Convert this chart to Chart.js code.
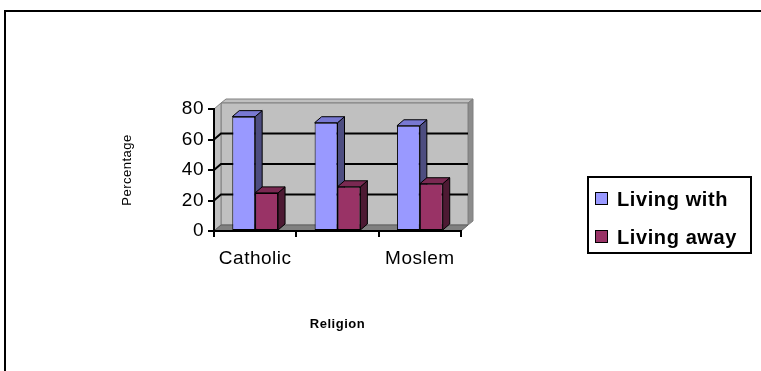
<!DOCTYPE html>
<html>
<head>
<meta charset="utf-8">
<title>Religion</title>
<script src="https://cdn.jsdelivr.net/npm/chart.js@4.4.0/dist/chart.umd.min.js"></script>
<style>
  html, body { margin: 0; padding: 0; background: #fff; overflow: hidden; }
  canvas { display: block; }
</style>
</head>
<body>
<canvas id="myChart" width="761" height="371"></canvas>
<script>
// data
const religions = ['Catholic', 'Protestant', 'Moslem'];
const livingWith = [75, 71, 69];
const livingAway = [25, 29, 31];
const yTicks = [0, 20, 40, 60, 80];

const FONT = "'Liberation Sans', Arial, sans-serif";
const DX = 7, DY = -6; // depth offset of the box and the bars

// top / side shades for each series (front colour is the dataset colour)
const faceColors = [
    { top: '#7878d2', side: '#4d4d80' },
    { top: '#7a2952', side: '#4d1a33' }
];

function poly(ctx, pts, fill, stroke, lw) {
    ctx.beginPath();
    ctx.moveTo(pts[0][0], pts[0][1]);
    for (let i = 1; i < pts.length; i++) ctx.lineTo(pts[i][0], pts[i][1]);
    ctx.closePath();
    if (fill) { ctx.fillStyle = fill; ctx.fill(); }
    if (stroke) { ctx.strokeStyle = stroke; ctx.lineWidth = lw || 1; ctx.stroke(); }
}

const box3d = {
    id: 'box3d',
    beforeDraw(chart) {
        const ctx = chart.ctx;
        const { left, right, top, bottom } = chart.chartArea;
        const yScale = chart.scales.y;
        ctx.save();

        // outer frame
        ctx.strokeStyle = '#000';
        ctx.lineWidth = 2;
        ctx.strokeRect(5, 11, 800, 400);

        const bl = left + DX, bt = top + DY, br = right + DX, bb = bottom + DY;
        // back wall with its thin top and right edges
        poly(ctx, [[bl, bt], [bl + 5, bt - 4], [br + 5, bt - 4], [br, bt]], '#c0c0c0', '#808080');
        poly(ctx, [[br, bt], [br + 5, bt - 4], [br + 5, bb - 4], [br, bb]], '#8c8c8c', '#808080');
        poly(ctx, [[bl, bt], [br, bt], [br, bb], [bl, bb]], '#c0c0c0', '#808080');
        // side wall
        poly(ctx, [[left, bottom], [left, top], [bl, bt], [bl, bb]], '#c0c0c0', '#808080');
        // floor
        poly(ctx, [[left, bottom], [bl, bb], [br, bb], [right, bottom]], '#808080', '#606060');

        // gridlines on side wall and back wall
        ctx.strokeStyle = '#000';
        ctx.lineWidth = 2;
        yTicks.forEach(v => {
            if (v <= yScale.min || v >= yScale.max) return;
            const py = yScale.getPixelForValue(v);
            ctx.beginPath();
            ctx.moveTo(left, py);
            ctx.lineTo(bl, py + DY);
            ctx.lineTo(br, py + DY);
            ctx.stroke();
        });
        ctx.restore();
        ctx.letterSpacing = '0.5px';
    },
    beforeDatasetsDraw(chart) {
        // sides and tops of the bars, fronts are drawn by chart.js on top
        const ctx = chart.ctx;
        ctx.save();
        chart.data.datasets.forEach((ds, i) => {
            const meta = chart.getDatasetMeta(i);
            meta.data.forEach(bar => {
                const { x, y, base, width } = bar.getProps(['x', 'y', 'base', 'width'], true);
                const l = x - width / 2, r = x + width / 2;
                poly(ctx, [[r, y], [r + DX, y + DY], [r + DX, base + DY], [r, base]], faceColors[i].side, '#000');
                poly(ctx, [[l, y], [l + DX, y + DY], [r + DX, y + DY], [r, y]], faceColors[i].top, '#000');
            });
        });
        ctx.restore();
    },
    afterDraw(chart) {
        // boxed legend on the right
        const ctx = chart.ctx;
        ctx.save();
        ctx.strokeStyle = '#000';
        ctx.lineWidth = 2;
        ctx.strokeRect(588, 177, 163, 76);
        ctx.font = `bold 20px ${FONT}`;
        ctx.letterSpacing = '0.6px';
        ctx.textBaseline = 'middle';
        chart.data.datasets.forEach((ds, i) => {
            const cy = 199 + i * 38;
            ctx.fillStyle = ds.backgroundColor;
            ctx.fillRect(595.5, cy - 6.5, 12, 12);
            ctx.lineWidth = 1;
            ctx.strokeRect(595.5, cy - 6.5, 12, 12);
            ctx.fillStyle = '#000';
            ctx.fillText(ds.label, 617, cy + 1);
        });
        ctx.restore();
    }
};

const ctx = document.getElementById('myChart').getContext('2d');
const chart = new Chart(ctx, {
    type: 'bar',
    data: {
        labels: religions,
        datasets: [
            {
                label: 'Living with',
                data: livingWith,
                backgroundColor: '#9999ff',
                borderColor: '#000',
                borderWidth: 1,
                borderSkipped: false
            },
            {
                label: 'Living away',
                data: livingAway,
                backgroundColor: '#993366',
                borderColor: '#000',
                borderWidth: 1,
                borderSkipped: false
            }
        ]
    },
    options: {
        responsive: false,
        devicePixelRatio: 1,
        animation: false,
        categoryPercentage: 0.556,
        barPercentage: 1,
        layout: { padding: { left: 0, top: 109, right: 300, bottom: 0 } },
        plugins: {
            legend: { display: false },
            tooltip: { enabled: false }
        },
        scales: {
            x: {
                grid: { drawOnChartArea: false, drawTicks: true, tickLength: 6, color: '#000', lineWidth: 2, offset: true },
                border: { display: true, color: '#000', width: 2 },
                ticks: {
                    color: '#000',
                    font: { family: FONT, size: 19 },
                    padding: 10,
                    maxRotation: 0,
                    minRotation: 0,
                    autoSkip: false,
                    // category labels at an interval of 2
                    callback: (value, index) => index % 2 === 0 ? religions[index] : ''
                },
                title: {
                    display: true,
                    text: 'Religion',
                    color: '#000',
                    font: { family: FONT, size: 13, weight: 'bold' },
                    padding: { top: 0, bottom: 39 }
                },
                afterFit(scale) { scale.height = 140; }
            },
            y: {
                min: 0,
                max: 80,
                afterBuildTicks(scale) { scale.ticks = yTicks.map(v => ({ value: v })); },
                ticks: { color: '#000', font: { family: FONT, size: 19 }, padding: 4 },
                grid: { drawOnChartArea: false, tickLength: 6, color: '#000', lineWidth: 2 },
                border: { display: true, color: '#000', width: 2 },
                title: {
                    display: true,
                    text: 'Percentage',
                    color: '#000',
                    font: { family: FONT, size: 13 },
                    padding: { top: 120, bottom: 0 }
                },
                afterFit(scale) { scale.width = 214; }
            }
        }
    },
    plugins: [box3d]
});
</script>
</body>
</html>
